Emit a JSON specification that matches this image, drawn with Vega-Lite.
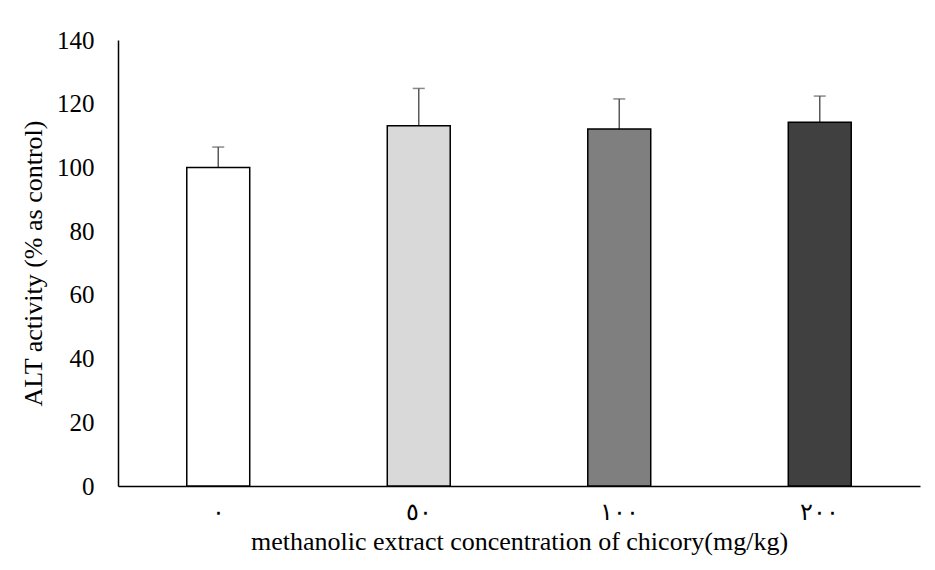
{
  "$schema": "https://vega.github.io/schema/vega-lite/v6.json",
  "autosize": "none",
  "width": 802,
  "height": 446,
  "padding": {"left": 118, "top": 40, "right": 15, "bottom": 84},
  "background": "white",
  "config": {
    "view": {"stroke": null},
    "font": "Liberation Serif",
    "axis": {"labelFont": "Liberation Serif", "titleFont": "Liberation Serif", "labelColor": "black", "titleColor": "black", "titleFontWeight": "normal"}
  },
  "data": {
    "values": [
      {"dose": "٠", "value": 100, "upper": 106.4, "color": "#ffffff"},
      {"dose": "٥٠", "value": 113.1, "upper": 124.8, "color": "#d9d9d9"},
      {"dose": "١٠٠", "value": 112.1, "upper": 121.5, "color": "#7f7f7f"},
      {"dose": "٢٠٠", "value": 114.2, "upper": 122.4, "color": "#404040"}
    ]
  },
  "encoding": {
    "x": {
      "field": "dose", "type": "nominal", "sort": null,
      "scale": {"paddingInner": 0.686, "paddingOuter": 0.343},
      "axis": {
        "title": "methanolic extract concentration of chicory(mg/kg)",
        "titleFontSize": 26, "titlePadding": 4,
        "labelFontSize": 24, "labelAngle": 0, "labelPadding": 14,
        "ticks": false, "domainColor": "black", "domainWidth": 1.5
      }
    }
  },
  "layer": [
    {
      "mark": {"type": "rule", "color": "#595959", "strokeWidth": 1.5},
      "encoding": {
        "y": {"field": "value", "type": "quantitative"},
        "y2": {"field": "upper"}
      }
    },
    {
      "mark": {"type": "tick", "color": "#595959", "thickness": 1.5, "size": 12},
      "encoding": {
        "y": {"field": "upper", "type": "quantitative"}
      }
    },
    {
      "mark": {"type": "bar", "stroke": "black", "strokeWidth": 1.5},
      "encoding": {
        "y": {
          "field": "value", "type": "quantitative",
          "scale": {"domain": [0, 140], "nice": false},
          "axis": {
            "title": "ALT activity (% as control)",
            "titleFontSize": 26, "titlePadding": 10,
            "labelFontSize": 25, "labelPadding": 24,
            "values": [0, 20, 40, 60, 80, 100, 120, 140],
            "ticks": false, "grid": false,
            "domainColor": "black", "domainWidth": 1.5
          }
        },
        "fill": {"field": "color", "type": "nominal", "scale": null}
      }
    }
  ]
}
